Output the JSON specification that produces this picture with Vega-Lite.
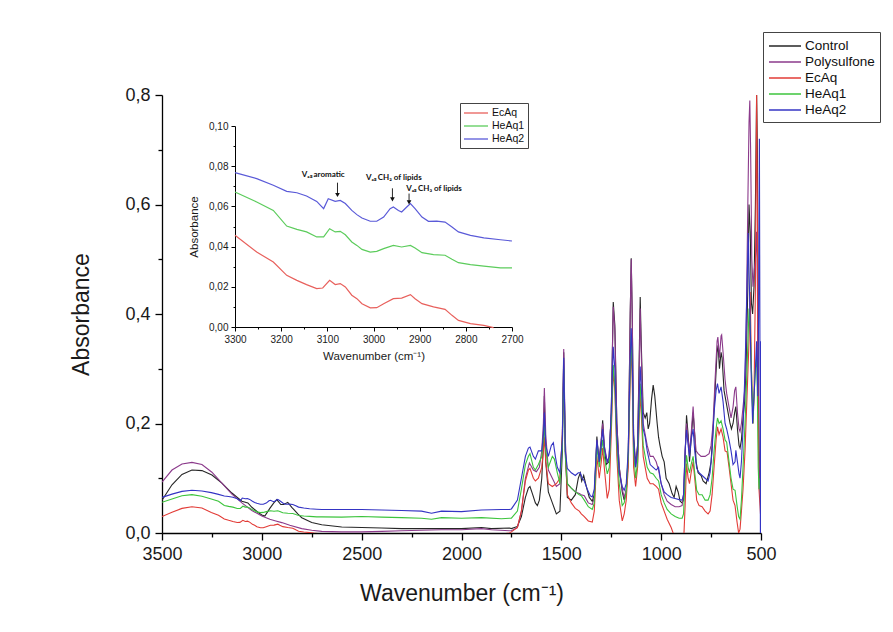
{
 "$schema": "https://vega.github.io/schema/vega-lite/v6.json",
 "width": 599, "height": 438,
 "autosize": {"type": "none"},
 "padding": {"left": 162, "top": 95, "right": 132, "bottom": 99},
 "background": "white",
 "config": {
  "view": {"stroke": null},
  "axis": {"grid": false, "labelFlush": false, "domainColor": "#000", "tickColor": "#000", "labelColor": "#1a1a1a", "titleColor": "#1a1a1a", "labelFont": "Liberation Sans", "titleFont": "Liberation Sans", "titleFontWeight": "normal", "domainWidth": 1.3, "tickWidth": 1.3},
  "legend": {"labelFont": "Liberation Sans", "labelColor": "#111"}
 },
 "datasets": {
  "spectra": [
{"s":"Control","w":3500,"a":0.060},{"s":"Control","w":3450,"a":0.088},{"s":"Control","w":3400,"a":0.107},{"s":"Control","w":3350,"a":0.115},{"s":"Control","w":3300,"a":0.114},{"s":"Control","w":3250,"a":0.106},{"s":"Control","w":3200,"a":0.091},{"s":"Control","w":3150,"a":0.073},{"s":"Control","w":3100,"a":0.058},{"s":"Control","w":3070,"a":0.055},{"s":"Control","w":3050,"a":0.047},{"s":"Control","w":3020,"a":0.038},{"s":"Control","w":3000,"a":0.033},{"s":"Control","w":2985,"a":0.031},{"s":"Control","w":2960,"a":0.045},{"s":"Control","w":2940,"a":0.055},{"s":"Control","w":2925,"a":0.061},{"s":"Control","w":2905,"a":0.052},{"s":"Control","w":2890,"a":0.052},{"s":"Control","w":2870,"a":0.056},{"s":"Control","w":2850,"a":0.047},{"s":"Control","w":2820,"a":0.035},{"s":"Control","w":2800,"a":0.028},{"s":"Control","w":2750,"a":0.019},{"s":"Control","w":2700,"a":0.015},{"s":"Control","w":2600,"a":0.011},{"s":"Control","w":2500,"a":0.010},{"s":"Control","w":2400,"a":0.009},{"s":"Control","w":2300,"a":0.008},{"s":"Control","w":2200,"a":0.008},{"s":"Control","w":2100,"a":0.008},{"s":"Control","w":2000,"a":0.008},{"s":"Control","w":1900,"a":0.010},{"s":"Control","w":1850,"a":0.008},{"s":"Control","w":1760,"a":0.009},{"s":"Control","w":1750,"a":0.008},{"s":"Control","w":1720,"a":0.012},{"s":"Control","w":1700,"a":0.030},{"s":"Control","w":1680,"a":0.065},{"s":"Control","w":1665,"a":0.082},{"s":"Control","w":1657,"a":0.085},{"s":"Control","w":1645,"a":0.072},{"s":"Control","w":1630,"a":0.055},{"s":"Control","w":1620,"a":0.05},{"s":"Control","w":1610,"a":0.06},{"s":"Control","w":1598,"a":0.1},{"s":"Control","w":1590,"a":0.16},{"s":"Control","w":1585,"a":0.25},{"s":"Control","w":1578,"a":0.13},{"s":"Control","w":1565,"a":0.075},{"s":"Control","w":1545,"a":0.055},{"s":"Control","w":1525,"a":0.035},{"s":"Control","w":1507,"a":0.04},{"s":"Control","w":1495,"a":0.15},{"s":"Control","w":1488,"a":0.33},{"s":"Control","w":1480,"a":0.15},{"s":"Control","w":1470,"a":0.065},{"s":"Control","w":1450,"a":0.06},{"s":"Control","w":1430,"a":0.07},{"s":"Control","w":1415,"a":0.1},{"s":"Control","w":1405,"a":0.11},{"s":"Control","w":1398,"a":0.095},{"s":"Control","w":1388,"a":0.105},{"s":"Control","w":1375,"a":0.085},{"s":"Control","w":1360,"a":0.065},{"s":"Control","w":1345,"a":0.058},{"s":"Control","w":1335,"a":0.07},{"s":"Control","w":1322,"a":0.176},{"s":"Control","w":1312,"a":0.13},{"s":"Control","w":1300,"a":0.17},{"s":"Control","w":1293,"a":0.206},{"s":"Control","w":1285,"a":0.16},{"s":"Control","w":1275,"a":0.125},{"s":"Control","w":1262,"a":0.13},{"s":"Control","w":1250,"a":0.22},{"s":"Control","w":1240,"a":0.422},{"s":"Control","w":1232,"a":0.38},{"s":"Control","w":1222,"a":0.2},{"s":"Control","w":1210,"a":0.12},{"s":"Control","w":1195,"a":0.075},{"s":"Control","w":1185,"a":0.06},{"s":"Control","w":1175,"a":0.075},{"s":"Control","w":1165,"a":0.13},{"s":"Control","w":1155,"a":0.4},{"s":"Control","w":1150,"a":0.502},{"s":"Control","w":1145,"a":0.4},{"s":"Control","w":1138,"a":0.18},{"s":"Control","w":1128,"a":0.125},{"s":"Control","w":1118,"a":0.16},{"s":"Control","w":1110,"a":0.32},{"s":"Control","w":1105,"a":0.431},{"s":"Control","w":1100,"a":0.35},{"s":"Control","w":1090,"a":0.22},{"s":"Control","w":1080,"a":0.21},{"s":"Control","w":1072,"a":0.22},{"s":"Control","w":1065,"a":0.19},{"s":"Control","w":1058,"a":0.2},{"s":"Control","w":1048,"a":0.245},{"s":"Control","w":1040,"a":0.27},{"s":"Control","w":1032,"a":0.25},{"s":"Control","w":1020,"a":0.2},{"s":"Control","w":1013,"a":0.175},{"s":"Control","w":1006,"a":0.16},{"s":"Control","w":995,"a":0.14},{"s":"Control","w":985,"a":0.13},{"s":"Control","w":975,"a":0.1},{"s":"Control","w":960,"a":0.09},{"s":"Control","w":945,"a":0.072},{"s":"Control","w":935,"a":0.065},{"s":"Control","w":925,"a":0.085},{"s":"Control","w":915,"a":0.075},{"s":"Control","w":905,"a":0.058},{"s":"Control","w":895,"a":0.055},{"s":"Control","w":888,"a":0.06},{"s":"Control","w":880,"a":0.14},{"s":"Control","w":873,"a":0.215},{"s":"Control","w":865,"a":0.18},{"s":"Control","w":858,"a":0.13},{"s":"Control","w":850,"a":0.17},{"s":"Control","w":840,"a":0.22},{"s":"Control","w":832,"a":0.18},{"s":"Control","w":825,"a":0.13},{"s":"Control","w":815,"a":0.11},{"s":"Control","w":800,"a":0.105},{"s":"Control","w":790,"a":0.095},{"s":"Control","w":775,"a":0.09},{"s":"Control","w":760,"a":0.11},{"s":"Control","w":750,"a":0.13},{"s":"Control","w":740,"a":0.19},{"s":"Control","w":730,"a":0.26},{"s":"Control","w":720,"a":0.33},{"s":"Control","w":715,"a":0.343},{"s":"Control","w":708,"a":0.3},{"s":"Control","w":700,"a":0.33},{"s":"Control","w":695,"a":0.32},{"s":"Control","w":685,"a":0.26},{"s":"Control","w":675,"a":0.24},{"s":"Control","w":665,"a":0.22},{"s":"Control","w":655,"a":0.2},{"s":"Control","w":648,"a":0.19},{"s":"Control","w":640,"a":0.2},{"s":"Control","w":632,"a":0.22},{"s":"Control","w":626,"a":0.231},{"s":"Control","w":618,"a":0.19},{"s":"Control","w":610,"a":0.16},{"s":"Control","w":605,"a":0.155},{"s":"Control","w":598,"a":0.17},{"s":"Control","w":590,"a":0.21},{"s":"Control","w":582,"a":0.24},{"s":"Control","w":575,"a":0.3},{"s":"Control","w":566,"a":0.45},{"s":"Control","w":560,"a":0.6},{"s":"Control","w":554,"a":0.55},{"s":"Control","w":548,"a":0.42},{"s":"Control","w":542,"a":0.4},{"s":"Control","w":535,"a":0.45},{"s":"Control","w":528,"a":0.6},{"s":"Control","w":522,"a":0.8},{"s":"Control","w":518,"a":0.7},{"s":"Control","w":514,"a":0.3},{"s":"Control","w":510,"a":0.15},{"s":"Control","w":506,"a":0.1},{"s":"Control","w":502,"a":0.05},
{"s":"Polysulfone","w":3500,"a":0.093},{"s":"Polysulfone","w":3450,"a":0.115},{"s":"Polysulfone","w":3400,"a":0.126},{"s":"Polysulfone","w":3350,"a":0.129},{"s":"Polysulfone","w":3300,"a":0.125},{"s":"Polysulfone","w":3250,"a":0.111},{"s":"Polysulfone","w":3200,"a":0.091},{"s":"Polysulfone","w":3150,"a":0.071},{"s":"Polysulfone","w":3100,"a":0.055},{"s":"Polysulfone","w":3050,"a":0.041},{"s":"Polysulfone","w":3000,"a":0.031},{"s":"Polysulfone","w":2960,"a":0.025},{"s":"Polysulfone","w":2930,"a":0.022},{"s":"Polysulfone","w":2900,"a":0.019},{"s":"Polysulfone","w":2860,"a":0.014},{"s":"Polysulfone","w":2800,"a":0.008},{"s":"Polysulfone","w":2750,"a":0.005},{"s":"Polysulfone","w":2700,"a":0.003},{"s":"Polysulfone","w":2600,"a":0.002},{"s":"Polysulfone","w":2500,"a":0.002},{"s":"Polysulfone","w":2400,"a":0.003},{"s":"Polysulfone","w":2300,"a":0.004},{"s":"Polysulfone","w":2200,"a":0.005},{"s":"Polysulfone","w":2100,"a":0.006},{"s":"Polysulfone","w":2000,"a":0.006},{"s":"Polysulfone","w":1900,"a":0.008},{"s":"Polysulfone","w":1850,"a":0.006},{"s":"Polysulfone","w":1760,"a":0.004},{"s":"Polysulfone","w":1750,"a":0.004},{"s":"Polysulfone","w":1720,"a":0.01},{"s":"Polysulfone","w":1700,"a":0.04},{"s":"Polysulfone","w":1680,"a":0.1},{"s":"Polysulfone","w":1660,"a":0.128},{"s":"Polysulfone","w":1640,"a":0.115},{"s":"Polysulfone","w":1625,"a":0.112},{"s":"Polysulfone","w":1610,"a":0.12},{"s":"Polysulfone","w":1598,"a":0.15},{"s":"Polysulfone","w":1590,"a":0.2},{"s":"Polysulfone","w":1585,"a":0.265},{"s":"Polysulfone","w":1578,"a":0.18},{"s":"Polysulfone","w":1565,"a":0.115},{"s":"Polysulfone","w":1545,"a":0.1},{"s":"Polysulfone","w":1525,"a":0.085},{"s":"Polysulfone","w":1507,"a":0.09},{"s":"Polysulfone","w":1495,"a":0.18},{"s":"Polysulfone","w":1488,"a":0.336},{"s":"Polysulfone","w":1480,"a":0.17},{"s":"Polysulfone","w":1470,"a":0.09},{"s":"Polysulfone","w":1450,"a":0.082},{"s":"Polysulfone","w":1430,"a":0.075},{"s":"Polysulfone","w":1410,"a":0.072},{"s":"Polysulfone","w":1400,"a":0.07},{"s":"Polysulfone","w":1385,"a":0.068},{"s":"Polysulfone","w":1365,"a":0.055},{"s":"Polysulfone","w":1345,"a":0.052},{"s":"Polysulfone","w":1335,"a":0.065},{"s":"Polysulfone","w":1322,"a":0.17},{"s":"Polysulfone","w":1310,"a":0.13},{"s":"Polysulfone","w":1300,"a":0.17},{"s":"Polysulfone","w":1293,"a":0.2},{"s":"Polysulfone","w":1285,"a":0.16},{"s":"Polysulfone","w":1270,"a":0.13},{"s":"Polysulfone","w":1260,"a":0.14},{"s":"Polysulfone","w":1250,"a":0.22},{"s":"Polysulfone","w":1240,"a":0.413},{"s":"Polysulfone","w":1232,"a":0.37},{"s":"Polysulfone","w":1222,"a":0.2},{"s":"Polysulfone","w":1210,"a":0.12},{"s":"Polysulfone","w":1195,"a":0.08},{"s":"Polysulfone","w":1185,"a":0.065},{"s":"Polysulfone","w":1175,"a":0.08},{"s":"Polysulfone","w":1165,"a":0.14},{"s":"Polysulfone","w":1155,"a":0.4},{"s":"Polysulfone","w":1150,"a":0.5},{"s":"Polysulfone","w":1145,"a":0.4},{"s":"Polysulfone","w":1138,"a":0.17},{"s":"Polysulfone","w":1128,"a":0.12},{"s":"Polysulfone","w":1118,"a":0.16},{"s":"Polysulfone","w":1110,"a":0.3},{"s":"Polysulfone","w":1105,"a":0.41},{"s":"Polysulfone","w":1100,"a":0.33},{"s":"Polysulfone","w":1090,"a":0.2},{"s":"Polysulfone","w":1080,"a":0.18},{"s":"Polysulfone","w":1070,"a":0.16},{"s":"Polysulfone","w":1055,"a":0.14},{"s":"Polysulfone","w":1040,"a":0.14},{"s":"Polysulfone","w":1025,"a":0.13},{"s":"Polysulfone","w":1013,"a":0.115},{"s":"Polysulfone","w":1000,"a":0.09},{"s":"Polysulfone","w":985,"a":0.07},{"s":"Polysulfone","w":970,"a":0.058},{"s":"Polysulfone","w":950,"a":0.052},{"s":"Polysulfone","w":930,"a":0.048},{"s":"Polysulfone","w":910,"a":0.048},{"s":"Polysulfone","w":895,"a":0.05},{"s":"Polysulfone","w":888,"a":0.07},{"s":"Polysulfone","w":880,"a":0.15},{"s":"Polysulfone","w":873,"a":0.2},{"s":"Polysulfone","w":865,"a":0.17},{"s":"Polysulfone","w":858,"a":0.15},{"s":"Polysulfone","w":850,"a":0.18},{"s":"Polysulfone","w":840,"a":0.231},{"s":"Polysulfone","w":832,"a":0.18},{"s":"Polysulfone","w":825,"a":0.15},{"s":"Polysulfone","w":815,"a":0.145},{"s":"Polysulfone","w":800,"a":0.14},{"s":"Polysulfone","w":780,"a":0.14},{"s":"Polysulfone","w":760,"a":0.145},{"s":"Polysulfone","w":750,"a":0.16},{"s":"Polysulfone","w":740,"a":0.2},{"s":"Polysulfone","w":730,"a":0.28},{"s":"Polysulfone","w":720,"a":0.35},{"s":"Polysulfone","w":716,"a":0.358},{"s":"Polysulfone","w":708,"a":0.32},{"s":"Polysulfone","w":700,"a":0.36},{"s":"Polysulfone","w":697,"a":0.362},{"s":"Polysulfone","w":690,"a":0.33},{"s":"Polysulfone","w":680,"a":0.28},{"s":"Polysulfone","w":672,"a":0.255},{"s":"Polysulfone","w":660,"a":0.23},{"s":"Polysulfone","w":650,"a":0.21},{"s":"Polysulfone","w":640,"a":0.23},{"s":"Polysulfone","w":632,"a":0.26},{"s":"Polysulfone","w":626,"a":0.267},{"s":"Polysulfone","w":618,"a":0.22},{"s":"Polysulfone","w":610,"a":0.19},{"s":"Polysulfone","w":605,"a":0.185},{"s":"Polysulfone","w":598,"a":0.2},{"s":"Polysulfone","w":590,"a":0.23},{"s":"Polysulfone","w":582,"a":0.26},{"s":"Polysulfone","w":575,"a":0.35},{"s":"Polysulfone","w":566,"a":0.6},{"s":"Polysulfone","w":560,"a":0.75},{"s":"Polysulfone","w":556,"a":0.79},{"s":"Polysulfone","w":552,"a":0.7},{"s":"Polysulfone","w":546,"a":0.5},{"s":"Polysulfone","w":540,"a":0.45},{"s":"Polysulfone","w":534,"a":0.48},{"s":"Polysulfone","w":528,"a":0.5},{"s":"Polysulfone","w":522,"a":0.55},{"s":"Polysulfone","w":518,"a":0.45},{"s":"Polysulfone","w":514,"a":0.25},{"s":"Polysulfone","w":510,"a":0.15},{"s":"Polysulfone","w":505,"a":0.1},{"s":"Polysulfone","w":500,"a":0.05},
{"s":"EcAq","w":3500,"a":0.030},{"s":"EcAq","w":3450,"a":0.038},{"s":"EcAq","w":3400,"a":0.045},{"s":"EcAq","w":3350,"a":0.048},{"s":"EcAq","w":3300,"a":0.0456},{"s":"EcAq","w":3253,"a":0.0373},{"s":"EcAq","w":3217,"a":0.0323},{"s":"EcAq","w":3188,"a":0.0257},{"s":"EcAq","w":3166,"a":0.0232},{"s":"EcAq","w":3145,"a":0.0211},{"s":"EcAq","w":3123,"a":0.0191},{"s":"EcAq","w":3110,"a":0.0194},{"s":"EcAq","w":3095,"a":0.0232},{"s":"EcAq","w":3083,"a":0.0211},{"s":"EcAq","w":3072,"a":0.0216},{"s":"EcAq","w":3061,"a":0.0199},{"s":"EcAq","w":3047,"a":0.0158},{"s":"EcAq","w":3036,"a":0.0141},{"s":"EcAq","w":3025,"a":0.0116},{"s":"EcAq","w":3007,"a":0.0095},{"s":"EcAq","w":2993,"a":0.0096},{"s":"EcAq","w":2978,"a":0.0116},{"s":"EcAq","w":2957,"a":0.0141},{"s":"EcAq","w":2939,"a":0.0144},{"s":"EcAq","w":2920,"a":0.0161},{"s":"EcAq","w":2910,"a":0.0141},{"s":"EcAq","w":2895,"a":0.0116},{"s":"EcAq","w":2870,"a":0.0100},{"s":"EcAq","w":2845,"a":0.0088},{"s":"EcAq","w":2830,"a":0.0058},{"s":"EcAq","w":2816,"a":0.0033},{"s":"EcAq","w":2790,"a":0.0017},{"s":"EcAq","w":2761,"a":0.0008},{"s":"EcAq","w":2740,"a":-0.0003},{"s":"EcAq","w":2700,"a":-0.0017},{"s":"EcAq","w":2600,"a":-0.002},{"s":"EcAq","w":2400,"a":-0.002},{"s":"EcAq","w":2200,"a":-0.002},{"s":"EcAq","w":2000,"a":-0.002},{"s":"EcAq","w":1800,"a":-0.002},{"s":"EcAq","w":1760,"a":0.0},{"s":"EcAq","w":1750,"a":0.002},{"s":"EcAq","w":1720,"a":0.01},{"s":"EcAq","w":1700,"a":0.04},{"s":"EcAq","w":1680,"a":0.095},{"s":"EcAq","w":1665,"a":0.115},{"s":"EcAq","w":1657,"a":0.118},{"s":"EcAq","w":1640,"a":0.1},{"s":"EcAq","w":1630,"a":0.095},{"s":"EcAq","w":1615,"a":0.1},{"s":"EcAq","w":1598,"a":0.12},{"s":"EcAq","w":1590,"a":0.15},{"s":"EcAq","w":1585,"a":0.175},{"s":"EcAq","w":1578,"a":0.13},{"s":"EcAq","w":1565,"a":0.09},{"s":"EcAq","w":1545,"a":0.085},{"s":"EcAq","w":1525,"a":0.09},{"s":"EcAq","w":1507,"a":0.1},{"s":"EcAq","w":1495,"a":0.18},{"s":"EcAq","w":1488,"a":0.29},{"s":"EcAq","w":1480,"a":0.15},{"s":"EcAq","w":1470,"a":0.07},{"s":"EcAq","w":1450,"a":0.055},{"s":"EcAq","w":1430,"a":0.045},{"s":"EcAq","w":1410,"a":0.04},{"s":"EcAq","w":1400,"a":0.035},{"s":"EcAq","w":1385,"a":0.03},{"s":"EcAq","w":1365,"a":0.022},{"s":"EcAq","w":1345,"a":0.02},{"s":"EcAq","w":1335,"a":0.04},{"s":"EcAq","w":1322,"a":0.14},{"s":"EcAq","w":1310,"a":0.1},{"s":"EcAq","w":1300,"a":0.13},{"s":"EcAq","w":1293,"a":0.155},{"s":"EcAq","w":1285,"a":0.12},{"s":"EcAq","w":1270,"a":0.063},{"s":"EcAq","w":1260,"a":0.08},{"s":"EcAq","w":1250,"a":0.18},{"s":"EcAq","w":1240,"a":0.298},{"s":"EcAq","w":1232,"a":0.26},{"s":"EcAq","w":1222,"a":0.14},{"s":"EcAq","w":1210,"a":0.06},{"s":"EcAq","w":1195,"a":0.022},{"s":"EcAq","w":1185,"a":0.035},{"s":"EcAq","w":1175,"a":0.06},{"s":"EcAq","w":1165,"a":0.12},{"s":"EcAq","w":1155,"a":0.28},{"s":"EcAq","w":1150,"a":0.34},{"s":"EcAq","w":1145,"a":0.28},{"s":"EcAq","w":1138,"a":0.12},{"s":"EcAq","w":1128,"a":0.085},{"s":"EcAq","w":1118,"a":0.12},{"s":"EcAq","w":1110,"a":0.2},{"s":"EcAq","w":1105,"a":0.26},{"s":"EcAq","w":1100,"a":0.22},{"s":"EcAq","w":1090,"a":0.14},{"s":"EcAq","w":1080,"a":0.12},{"s":"EcAq","w":1070,"a":0.1},{"s":"EcAq","w":1055,"a":0.09},{"s":"EcAq","w":1040,"a":0.09},{"s":"EcAq","w":1025,"a":0.085},{"s":"EcAq","w":1013,"a":0.08},{"s":"EcAq","w":1000,"a":0.055},{"s":"EcAq","w":985,"a":0.04},{"s":"EcAq","w":970,"a":0.025},{"s":"EcAq","w":950,"a":0.01},{"s":"EcAq","w":935,"a":-0.005},{"s":"EcAq","w":920,"a":-0.02},{"s":"EcAq","w":900,"a":-0.03},{"s":"EcAq","w":888,"a":-0.02},{"s":"EcAq","w":880,"a":0.05},{"s":"EcAq","w":873,"a":0.127},{"s":"EcAq","w":865,"a":0.1},{"s":"EcAq","w":858,"a":0.09},{"s":"EcAq","w":850,"a":0.11},{"s":"EcAq","w":840,"a":0.13},{"s":"EcAq","w":832,"a":0.1},{"s":"EcAq","w":822,"a":0.06},{"s":"EcAq","w":810,"a":0.05},{"s":"EcAq","w":795,"a":0.048},{"s":"EcAq","w":780,"a":0.04},{"s":"EcAq","w":765,"a":0.035},{"s":"EcAq","w":755,"a":0.04},{"s":"EcAq","w":745,"a":0.07},{"s":"EcAq","w":735,"a":0.12},{"s":"EcAq","w":725,"a":0.17},{"s":"EcAq","w":718,"a":0.194},{"s":"EcAq","w":710,"a":0.18},{"s":"EcAq","w":700,"a":0.19},{"s":"EcAq","w":690,"a":0.175},{"s":"EcAq","w":680,"a":0.15},{"s":"EcAq","w":670,"a":0.148},{"s":"EcAq","w":660,"a":0.12},{"s":"EcAq","w":650,"a":0.09},{"s":"EcAq","w":640,"a":0.06},{"s":"EcAq","w":630,"a":0.05},{"s":"EcAq","w":620,"a":0.02},{"s":"EcAq","w":612,"a":0.0},{"s":"EcAq","w":605,"a":0.007},{"s":"EcAq","w":598,"a":0.04},{"s":"EcAq","w":590,"a":0.08},{"s":"EcAq","w":580,"a":0.15},{"s":"EcAq","w":570,"a":0.25},{"s":"EcAq","w":560,"a":0.35},{"s":"EcAq","w":554,"a":0.44},{"s":"EcAq","w":548,"a":0.3},{"s":"EcAq","w":540,"a":0.2},{"s":"EcAq","w":535,"a":0.25},{"s":"EcAq","w":528,"a":0.45},{"s":"EcAq","w":522,"a":0.8},{"s":"EcAq","w":518,"a":0.6},{"s":"EcAq","w":514,"a":0.2},{"s":"EcAq","w":510,"a":0.08},{"s":"EcAq","w":505,"a":0.05},{"s":"EcAq","w":500,"a":0.02},
{"s":"HeAq1","w":3500,"a":0.056},{"s":"HeAq1","w":3450,"a":0.062},{"s":"HeAq1","w":3400,"a":0.068},{"s":"HeAq1","w":3350,"a":0.070},{"s":"HeAq1","w":3300,"a":0.0672},{"s":"HeAq1","w":3253,"a":0.0622},{"s":"HeAq1","w":3217,"a":0.058},{"s":"HeAq1","w":3188,"a":0.0502},{"s":"HeAq1","w":3166,"a":0.0486},{"s":"HeAq1","w":3145,"a":0.0473},{"s":"HeAq1","w":3123,"a":0.0448},{"s":"HeAq1","w":3108,"a":0.0448},{"s":"HeAq1","w":3095,"a":0.0489},{"s":"HeAq1","w":3083,"a":0.0473},{"s":"HeAq1","w":3072,"a":0.0476},{"s":"HeAq1","w":3061,"a":0.0459},{"s":"HeAq1","w":3047,"a":0.0423},{"s":"HeAq1","w":3036,"a":0.0406},{"s":"HeAq1","w":3025,"a":0.0386},{"s":"HeAq1","w":3007,"a":0.0373},{"s":"HeAq1","w":2993,"a":0.0376},{"s":"HeAq1","w":2978,"a":0.039},{"s":"HeAq1","w":2957,"a":0.0406},{"s":"HeAq1","w":2939,"a":0.0398},{"s":"HeAq1","w":2920,"a":0.0406},{"s":"HeAq1","w":2910,"a":0.0393},{"s":"HeAq1","w":2895,"a":0.037},{"s":"HeAq1","w":2870,"a":0.036},{"s":"HeAq1","w":2845,"a":0.0357},{"s":"HeAq1","w":2830,"a":0.0337},{"s":"HeAq1","w":2816,"a":0.032},{"s":"HeAq1","w":2790,"a":0.031},{"s":"HeAq1","w":2761,"a":0.0303},{"s":"HeAq1","w":2725,"a":0.0294},{"s":"HeAq1","w":2700,"a":0.0294},{"s":"HeAq1","w":2600,"a":0.029},{"s":"HeAq1","w":2500,"a":0.03},{"s":"HeAq1","w":2400,"a":0.029},{"s":"HeAq1","w":2300,"a":0.028},{"s":"HeAq1","w":2200,"a":0.027},{"s":"HeAq1","w":2150,"a":0.025},{"s":"HeAq1","w":2100,"a":0.028},{"s":"HeAq1","w":2000,"a":0.027},{"s":"HeAq1","w":1900,"a":0.028},{"s":"HeAq1","w":1800,"a":0.026},{"s":"HeAq1","w":1760,"a":0.027},{"s":"HeAq1","w":1750,"a":0.027},{"s":"HeAq1","w":1720,"a":0.04},{"s":"HeAq1","w":1700,"a":0.08},{"s":"HeAq1","w":1680,"a":0.125},{"s":"HeAq1","w":1665,"a":0.14},{"s":"HeAq1","w":1657,"a":0.145},{"s":"HeAq1","w":1640,"a":0.12},{"s":"HeAq1","w":1630,"a":0.115},{"s":"HeAq1","w":1615,"a":0.125},{"s":"HeAq1","w":1598,"a":0.14},{"s":"HeAq1","w":1590,"a":0.17},{"s":"HeAq1","w":1585,"a":0.2},{"s":"HeAq1","w":1578,"a":0.15},{"s":"HeAq1","w":1565,"a":0.12},{"s":"HeAq1","w":1545,"a":0.14},{"s":"HeAq1","w":1535,"a":0.135},{"s":"HeAq1","w":1520,"a":0.11},{"s":"HeAq1","w":1507,"a":0.09},{"s":"HeAq1","w":1495,"a":0.16},{"s":"HeAq1","w":1488,"a":0.3},{"s":"HeAq1","w":1480,"a":0.14},{"s":"HeAq1","w":1470,"a":0.09},{"s":"HeAq1","w":1450,"a":0.082},{"s":"HeAq1","w":1430,"a":0.075},{"s":"HeAq1","w":1410,"a":0.07},{"s":"HeAq1","w":1400,"a":0.068},{"s":"HeAq1","w":1385,"a":0.06},{"s":"HeAq1","w":1365,"a":0.048},{"s":"HeAq1","w":1345,"a":0.043},{"s":"HeAq1","w":1335,"a":0.055},{"s":"HeAq1","w":1322,"a":0.16},{"s":"HeAq1","w":1310,"a":0.12},{"s":"HeAq1","w":1300,"a":0.15},{"s":"HeAq1","w":1293,"a":0.17},{"s":"HeAq1","w":1285,"a":0.14},{"s":"HeAq1","w":1270,"a":0.108},{"s":"HeAq1","w":1260,"a":0.12},{"s":"HeAq1","w":1250,"a":0.2},{"s":"HeAq1","w":1240,"a":0.307},{"s":"HeAq1","w":1232,"a":0.27},{"s":"HeAq1","w":1222,"a":0.16},{"s":"HeAq1","w":1210,"a":0.09},{"s":"HeAq1","w":1195,"a":0.05},{"s":"HeAq1","w":1185,"a":0.055},{"s":"HeAq1","w":1175,"a":0.075},{"s":"HeAq1","w":1165,"a":0.14},{"s":"HeAq1","w":1155,"a":0.3},{"s":"HeAq1","w":1150,"a":0.36},{"s":"HeAq1","w":1145,"a":0.3},{"s":"HeAq1","w":1138,"a":0.15},{"s":"HeAq1","w":1128,"a":0.1},{"s":"HeAq1","w":1118,"a":0.13},{"s":"HeAq1","w":1110,"a":0.22},{"s":"HeAq1","w":1105,"a":0.273},{"s":"HeAq1","w":1100,"a":0.24},{"s":"HeAq1","w":1090,"a":0.16},{"s":"HeAq1","w":1080,"a":0.14},{"s":"HeAq1","w":1070,"a":0.12},{"s":"HeAq1","w":1055,"a":0.11},{"s":"HeAq1","w":1040,"a":0.108},{"s":"HeAq1","w":1025,"a":0.1},{"s":"HeAq1","w":1013,"a":0.095},{"s":"HeAq1","w":1000,"a":0.07},{"s":"HeAq1","w":985,"a":0.055},{"s":"HeAq1","w":970,"a":0.043},{"s":"HeAq1","w":950,"a":0.035},{"s":"HeAq1","w":930,"a":0.03},{"s":"HeAq1","w":910,"a":0.027},{"s":"HeAq1","w":895,"a":0.027},{"s":"HeAq1","w":888,"a":0.035},{"s":"HeAq1","w":880,"a":0.1},{"s":"HeAq1","w":873,"a":0.142},{"s":"HeAq1","w":865,"a":0.12},{"s":"HeAq1","w":858,"a":0.11},{"s":"HeAq1","w":850,"a":0.125},{"s":"HeAq1","w":840,"a":0.14},{"s":"HeAq1","w":832,"a":0.11},{"s":"HeAq1","w":822,"a":0.078},{"s":"HeAq1","w":810,"a":0.07},{"s":"HeAq1","w":795,"a":0.07},{"s":"HeAq1","w":780,"a":0.06},{"s":"HeAq1","w":765,"a":0.06},{"s":"HeAq1","w":755,"a":0.07},{"s":"HeAq1","w":745,"a":0.1},{"s":"HeAq1","w":735,"a":0.15},{"s":"HeAq1","w":725,"a":0.19},{"s":"HeAq1","w":718,"a":0.21},{"s":"HeAq1","w":710,"a":0.2},{"s":"HeAq1","w":700,"a":0.205},{"s":"HeAq1","w":690,"a":0.19},{"s":"HeAq1","w":680,"a":0.17},{"s":"HeAq1","w":672,"a":0.166},{"s":"HeAq1","w":660,"a":0.13},{"s":"HeAq1","w":650,"a":0.1},{"s":"HeAq1","w":640,"a":0.08},{"s":"HeAq1","w":630,"a":0.078},{"s":"HeAq1","w":620,"a":0.05},{"s":"HeAq1","w":612,"a":0.03},{"s":"HeAq1","w":605,"a":0.025},{"s":"HeAq1","w":598,"a":0.06},{"s":"HeAq1","w":590,"a":0.12},{"s":"HeAq1","w":580,"a":0.2},{"s":"HeAq1","w":570,"a":0.3},{"s":"HeAq1","w":560,"a":0.41},{"s":"HeAq1","w":554,"a":0.38},{"s":"HeAq1","w":548,"a":0.3},{"s":"HeAq1","w":540,"a":0.2},{"s":"HeAq1","w":535,"a":0.25},{"s":"HeAq1","w":528,"a":0.3},{"s":"HeAq1","w":522,"a":0.32},{"s":"HeAq1","w":518,"a":0.25},{"s":"HeAq1","w":514,"a":0.12},{"s":"HeAq1","w":510,"a":0.08},{"s":"HeAq1","w":505,"a":0.1},{"s":"HeAq1","w":500,"a":0.05},
{"s":"HeAq2","w":3500,"a":0.065},{"s":"HeAq2","w":3450,"a":0.071},{"s":"HeAq2","w":3400,"a":0.076},{"s":"HeAq2","w":3350,"a":0.078},{"s":"HeAq2","w":3300,"a":0.0768},{"s":"HeAq2","w":3253,"a":0.0738},{"s":"HeAq2","w":3217,"a":0.0705},{"s":"HeAq2","w":3188,"a":0.0675},{"s":"HeAq2","w":3166,"a":0.0668},{"s":"HeAq2","w":3145,"a":0.0652},{"s":"HeAq2","w":3123,"a":0.0625},{"s":"HeAq2","w":3108,"a":0.0589},{"s":"HeAq2","w":3098,"a":0.0638},{"s":"HeAq2","w":3083,"a":0.0625},{"s":"HeAq2","w":3072,"a":0.063},{"s":"HeAq2","w":3061,"a":0.0614},{"s":"HeAq2","w":3047,"a":0.058},{"s":"HeAq2","w":3036,"a":0.0559},{"s":"HeAq2","w":3025,"a":0.0542},{"s":"HeAq2","w":3007,"a":0.0526},{"s":"HeAq2","w":2993,"a":0.0526},{"s":"HeAq2","w":2978,"a":0.0547},{"s":"HeAq2","w":2964,"a":0.0589},{"s":"HeAq2","w":2957,"a":0.0597},{"s":"HeAq2","w":2946,"a":0.058},{"s":"HeAq2","w":2939,"a":0.0572},{"s":"HeAq2","w":2928,"a":0.0597},{"s":"HeAq2","w":2920,"a":0.0614},{"s":"HeAq2","w":2910,"a":0.0589},{"s":"HeAq2","w":2895,"a":0.0547},{"s":"HeAq2","w":2881,"a":0.0526},{"s":"HeAq2","w":2863,"a":0.0527},{"s":"HeAq2","w":2845,"a":0.0522},{"s":"HeAq2","w":2830,"a":0.0498},{"s":"HeAq2","w":2816,"a":0.0473},{"s":"HeAq2","w":2790,"a":0.0456},{"s":"HeAq2","w":2761,"a":0.0443},{"s":"HeAq2","w":2725,"a":0.0434},{"s":"HeAq2","w":2700,"a":0.0428},{"s":"HeAq2","w":2600,"a":0.043},{"s":"HeAq2","w":2500,"a":0.043},{"s":"HeAq2","w":2400,"a":0.042},{"s":"HeAq2","w":2300,"a":0.041},{"s":"HeAq2","w":2200,"a":0.04},{"s":"HeAq2","w":2150,"a":0.036},{"s":"HeAq2","w":2100,"a":0.04},{"s":"HeAq2","w":2000,"a":0.039},{"s":"HeAq2","w":1900,"a":0.042},{"s":"HeAq2","w":1800,"a":0.043},{"s":"HeAq2","w":1760,"a":0.043},{"s":"HeAq2","w":1750,"a":0.044},{"s":"HeAq2","w":1720,"a":0.06},{"s":"HeAq2","w":1700,"a":0.1},{"s":"HeAq2","w":1680,"a":0.14},{"s":"HeAq2","w":1665,"a":0.155},{"s":"HeAq2","w":1657,"a":0.157},{"s":"HeAq2","w":1640,"a":0.14},{"s":"HeAq2","w":1630,"a":0.135},{"s":"HeAq2","w":1615,"a":0.15},{"s":"HeAq2","w":1607,"a":0.15},{"s":"HeAq2","w":1598,"a":0.15},{"s":"HeAq2","w":1590,"a":0.18},{"s":"HeAq2","w":1585,"a":0.22},{"s":"HeAq2","w":1578,"a":0.16},{"s":"HeAq2","w":1565,"a":0.14},{"s":"HeAq2","w":1550,"a":0.16},{"s":"HeAq2","w":1540,"a":0.165},{"s":"HeAq2","w":1530,"a":0.14},{"s":"HeAq2","w":1520,"a":0.12},{"s":"HeAq2","w":1507,"a":0.11},{"s":"HeAq2","w":1495,"a":0.17},{"s":"HeAq2","w":1488,"a":0.32},{"s":"HeAq2","w":1480,"a":0.15},{"s":"HeAq2","w":1470,"a":0.118},{"s":"HeAq2","w":1450,"a":0.11},{"s":"HeAq2","w":1430,"a":0.105},{"s":"HeAq2","w":1415,"a":0.11},{"s":"HeAq2","w":1405,"a":0.11},{"s":"HeAq2","w":1395,"a":0.1},{"s":"HeAq2","w":1385,"a":0.095},{"s":"HeAq2","w":1370,"a":0.08},{"s":"HeAq2","w":1355,"a":0.068},{"s":"HeAq2","w":1345,"a":0.066},{"s":"HeAq2","w":1335,"a":0.08},{"s":"HeAq2","w":1322,"a":0.17},{"s":"HeAq2","w":1310,"a":0.13},{"s":"HeAq2","w":1300,"a":0.16},{"s":"HeAq2","w":1293,"a":0.19},{"s":"HeAq2","w":1285,"a":0.155},{"s":"HeAq2","w":1270,"a":0.13},{"s":"HeAq2","w":1260,"a":0.14},{"s":"HeAq2","w":1250,"a":0.22},{"s":"HeAq2","w":1240,"a":0.34},{"s":"HeAq2","w":1232,"a":0.3},{"s":"HeAq2","w":1222,"a":0.18},{"s":"HeAq2","w":1210,"a":0.11},{"s":"HeAq2","w":1195,"a":0.085},{"s":"HeAq2","w":1185,"a":0.078},{"s":"HeAq2","w":1175,"a":0.09},{"s":"HeAq2","w":1165,"a":0.15},{"s":"HeAq2","w":1155,"a":0.32},{"s":"HeAq2","w":1150,"a":0.374},{"s":"HeAq2","w":1145,"a":0.32},{"s":"HeAq2","w":1138,"a":0.17},{"s":"HeAq2","w":1128,"a":0.12},{"s":"HeAq2","w":1118,"a":0.15},{"s":"HeAq2","w":1110,"a":0.25},{"s":"HeAq2","w":1105,"a":0.304},{"s":"HeAq2","w":1100,"a":0.27},{"s":"HeAq2","w":1090,"a":0.19},{"s":"HeAq2","w":1080,"a":0.175},{"s":"HeAq2","w":1070,"a":0.15},{"s":"HeAq2","w":1055,"a":0.125},{"s":"HeAq2","w":1040,"a":0.12},{"s":"HeAq2","w":1025,"a":0.115},{"s":"HeAq2","w":1013,"a":0.12},{"s":"HeAq2","w":1000,"a":0.09},{"s":"HeAq2","w":985,"a":0.075},{"s":"HeAq2","w":970,"a":0.07},{"s":"HeAq2","w":950,"a":0.065},{"s":"HeAq2","w":930,"a":0.063},{"s":"HeAq2","w":910,"a":0.061},{"s":"HeAq2","w":895,"a":0.06},{"s":"HeAq2","w":888,"a":0.07},{"s":"HeAq2","w":880,"a":0.15},{"s":"HeAq2","w":873,"a":0.188},{"s":"HeAq2","w":865,"a":0.16},{"s":"HeAq2","w":858,"a":0.14},{"s":"HeAq2","w":850,"a":0.17},{"s":"HeAq2","w":840,"a":0.19},{"s":"HeAq2","w":832,"a":0.15},{"s":"HeAq2","w":822,"a":0.118},{"s":"HeAq2","w":810,"a":0.11},{"s":"HeAq2","w":795,"a":0.105},{"s":"HeAq2","w":780,"a":0.1},{"s":"HeAq2","w":765,"a":0.095},{"s":"HeAq2","w":755,"a":0.11},{"s":"HeAq2","w":745,"a":0.15},{"s":"HeAq2","w":735,"a":0.22},{"s":"HeAq2","w":725,"a":0.26},{"s":"HeAq2","w":718,"a":0.273},{"s":"HeAq2","w":710,"a":0.255},{"s":"HeAq2","w":700,"a":0.267},{"s":"HeAq2","w":690,"a":0.24},{"s":"HeAq2","w":680,"a":0.2},{"s":"HeAq2","w":672,"a":0.19},{"s":"HeAq2","w":660,"a":0.17},{"s":"HeAq2","w":650,"a":0.15},{"s":"HeAq2","w":640,"a":0.125},{"s":"HeAq2","w":630,"a":0.13},{"s":"HeAq2","w":626,"a":0.151},{"s":"HeAq2","w":618,"a":0.13},{"s":"HeAq2","w":610,"a":0.108},{"s":"HeAq2","w":605,"a":0.1},{"s":"HeAq2","w":598,"a":0.13},{"s":"HeAq2","w":590,"a":0.19},{"s":"HeAq2","w":580,"a":0.3},{"s":"HeAq2","w":570,"a":0.45},{"s":"HeAq2","w":564,"a":0.548},{"s":"HeAq2","w":558,"a":0.45},{"s":"HeAq2","w":550,"a":0.3},{"s":"HeAq2","w":542,"a":0.2},{"s":"HeAq2","w":535,"a":0.25},{"s":"HeAq2","w":528,"a":0.3},{"s":"HeAq2","w":522,"a":0.35},{"s":"HeAq2","w":516,"a":0.25},{"s":"HeAq2","w":512,"a":0.4},{"s":"HeAq2","w":508,"a":0.72},{"s":"HeAq2","w":505,"a":0.3},{"s":"HeAq2","w":503,"a":0.0},{"s":"HeAq2","w":502,"a":0.35},{"s":"HeAq2","w":501,"a":0.0},{"s":"HeAq2","w":500,"a":0.3}
  ],
  "notes": [
   {"t":"Vₐₛ aromatic","w":3109,"a":0.0755},
   {"t":"Vₐₛ CH₂ of lipids","w":2956,"a":0.0741},
   {"t":"Vₐₛ CH₃ of lipids","w":2869,"a":0.0687}
  ],
  "arrows": [
   {"w":3078,"a":0.0657,"a1":0.0718},
   {"w":2959,"a":0.0635,"a1":0.0690},
   {"w":2923,"a":0.0620,"a1":0.0664}
  ]
 },
 "layer": [
  {
   "data": {"name": "spectra"},
   "mark": {"type": "line", "clip": true, "strokeWidth": 1.1},
   "encoding": {
    "x": {"field": "w", "type": "quantitative",
     "scale": {"domain": [500, 3500], "reverse": true, "nice": false, "zero": false},
     "axis": {"orient": "bottom", "title": "Wavenumber (cm⁻¹)", "values": [500,750,1000,1250,1500,1750,2000,2250,2500,2750,3000,3250,3500],
      "labelExpr": "datum.value % 500 === 0 ? format(datum.value, 'd') : ''",
      "tickSize": {"condition": {"test": "datum.value % 500 === 0", "value": 7}, "value": 4},
      "labelFontSize": 18, "labelPadding": 5, "titleFontSize": 23, "titlePadding": 19}},
    "y": {"field": "a", "type": "quantitative",
     "scale": {"domain": [0, 0.8], "nice": false, "zero": true},
     "axis": {"orient": "left", "title": "Absorbance", "values": [0,0.1,0.2,0.3,0.4,0.5,0.6,0.7,0.8],
      "labelExpr": "round(datum.value * 10) % 2 === 0 ? replace(format(datum.value, '.1f'), '.', ',') : ''",
      "tickSize": {"condition": {"test": "round(datum.value * 10) % 2 === 0", "value": 7}, "value": 4},
      "labelFontSize": 18, "labelPadding": 5, "titleFontSize": 23, "titlePadding": 31}},
    "color": {"field": "s", "type": "nominal",
     "scale": {"domain": ["Control","Polysulfone","EcAq","HeAq1","HeAq2"], "range": ["#262626","#8b3a8b","#e23b36","#3cc43c","#3434c4"]},
     "legend": {"title": null, "orient": "none", "legendX": 601, "legendY": -63, "symbolType": "M-2,0H2", "symbolSize": 256, "symbolStrokeWidth": 1.5, "symbolOffset": 8, "labelOffset": 11, "labelFontSize": 13.5, "padding": 5, "strokeColor": "#444", "fillColor": "white", "rowPadding": 0}}
   }
  },
  {
   "encoding": {
    "x": {"field": "w", "type": "quantitative",
     "scale": {"domain": [2700, 3300], "range": [350, 73], "nice": false, "zero": false},
     "axis": {"orient": "bottom", "offset": -206, "title": "Wavenumber (cm⁻¹)", "values": [2700,2750,2800,2850,2900,2950,3000,3050,3100,3150,3200,3250,3300],
      "labelExpr": "datum.value % 100 === 0 ? format(datum.value, 'd') : ''",
      "tickSize": {"condition": {"test": "datum.value % 100 === 0", "value": 4}, "value": 2},
      "labelFontSize": 10, "labelPadding": 3, "titleFontSize": 11.5, "titlePadding": 6, "domainWidth": 1, "tickWidth": 1}},
    "y": {"field": "a", "type": "quantitative",
     "scale": {"domain": [0, 0.1], "range": [232, 31], "nice": false, "zero": true},
     "axis": {"orient": "left", "offset": -73, "title": "Absorbance", "values": [0,0.01,0.02,0.03,0.04,0.05,0.06,0.07,0.08,0.09,0.1],
      "labelExpr": "round(datum.value * 100) % 2 === 0 ? replace(format(datum.value, '.2f'), '.', ',') : ''",
      "tickSize": {"condition": {"test": "round(datum.value * 100) % 2 === 0", "value": 4}, "value": 2},
      "labelFontSize": 10, "labelPadding": 3, "titleFontSize": 11.5, "titlePadding": 9, "domainWidth": 1, "tickWidth": 1}}
   },
   "layer": [
    {
     "data": {"name": "spectra"},
     "transform": [{"filter": "(datum.s === 'EcAq' || datum.s === 'HeAq1' || datum.s === 'HeAq2') && datum.w >= 2700 && datum.w <= 3300 && datum.a >= -0.0005"}],
     "mark": {"type": "line", "strokeWidth": 1.2},
     "encoding": {
      "color": {"field": "s", "type": "nominal",
       "scale": {"domain": ["EcAq","HeAq1","HeAq2"], "range": ["#e8605c","#5ccc5c","#5a5ad8"]},
       "legend": {"title": null, "orient": "none", "legendX": 298, "legendY": 8, "symbolType": "M-2,0H2", "symbolSize": 144, "symbolStrokeWidth": 1.3, "symbolOffset": 6, "labelOffset": 9, "labelFontSize": 10.5, "padding": 3, "strokeColor": "#444", "fillColor": "white", "rowPadding": 0}}
     }
    },
    {
     "data": {"name": "notes"},
     "mark": {"type": "text", "font": "Lato", "fontWeight": "bold", "fontSize": 8, "color": "#111", "align": "center", "baseline": "middle"},
     "encoding": {"text": {"field": "t"}}
    },
    {
     "data": {"name": "arrows"},
     "mark": {"type": "rule", "color": "#111", "strokeWidth": 0.9},
     "encoding": {"y2": {"field": "a1"}}
    },
    {
     "data": {"name": "arrows"},
     "mark": {"type": "point", "shape": "triangle-down", "filled": true, "color": "#111", "size": 22, "opacity": 1},
     "encoding": {}
    }
   ]
  }
 ],
 "resolve": {"scale": {"x": "independent", "y": "independent", "color": "independent"}, "axis": {"x": "independent", "y": "independent"}, "legend": {"color": "independent"}}
}
